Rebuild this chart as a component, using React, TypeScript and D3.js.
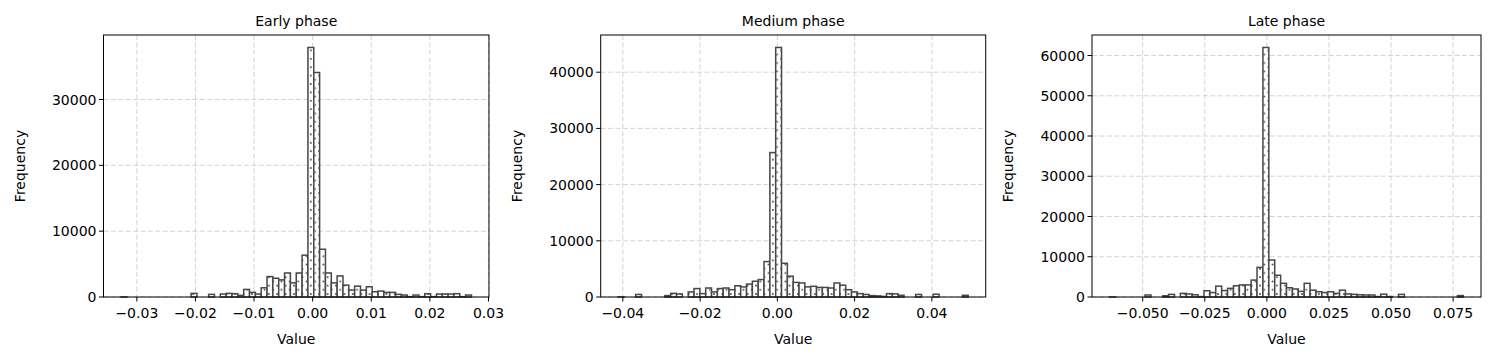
import React from 'react';
import * as d3 from 'd3';

// ---- data (60 bins per panel) ----
const earlyCounts = [
  10, 0, 0, 0, 0, 0, 0, 0, 0, 0,
  0, 0, 550, 0, 0, 400, 0, 450, 550, 500,
  250, 1150, 700, 450, 1400, 3100, 2850, 2600, 3650, 2150,
  3650, 6350, 37900, 34100, 7250, 3650, 2150, 3200, 1800, 1050,
  1650, 1050, 1550, 800, 900, 700, 700, 400, 300, 50,
  300, 50, 500, 50, 450, 450, 450, 500, 50, 300,
];
const mediumCounts = [
  10, 0, 0, 450, 0, 0, 0, 0, 250, 650,
  550, 0, 900, 1500, 600, 1600, 900, 1500, 1600, 1300,
  2000, 1800, 2300, 2800, 3100, 6300, 25700, 44400, 6000, 3700,
  2600, 2500, 1800, 1900, 1700, 1700, 1600, 2500, 2100, 1300,
  900, 600, 450, 250, 200, 100, 600, 550, 300, 0,
  0, 450, 0, 0, 500, 0, 0, 0, 0, 300,
];
const lateCounts = [
  10, 0, 0, 0, 0, 0, 500, 0, 0, 300,
  650, 0, 900, 750, 550, 100, 1550, 1100, 2700, 1600,
  2150, 2800, 3000, 3000, 4200, 7350, 62000, 9200, 5400, 3400,
  2300, 2000, 1400, 3400, 1700, 1300, 1100, 1300, 900, 1700,
  750, 650, 550, 500, 500, 100, 700, 100, 0, 650,
  0, 0, 0, 0, 0, 0, 0, 0, 0, 350,
];
const earlyExtent = [-0.0327, 0.0271];
const mediumExtent = [-0.0412, 0.0494];
const lateExtent = [-0.0633, 0.0791];

const earlyXTicks = [-0.03, -0.02, -0.01, 0, 0.01, 0.02, 0.03];
const mediumXTicks = [-0.04, -0.02, 0, 0.02, 0.04];
const lateXTicks = [-0.05, -0.025, 0, 0.025, 0.05, 0.075];
const earlyYTicks = [0, 10000, 20000, 30000];
const mediumYTicks = [0, 10000, 20000, 30000, 40000];
const lateYTicks = [0, 10000, 20000, 30000, 40000, 50000, 60000];
const titles = ['Early phase', 'Medium phase', 'Late phase'];
const xLabel = 'Value';
const yLabel = 'Frequency';

const panels = [
  { title: titles[0], counts: earlyCounts, extent: earlyExtent, xTicks: earlyXTicks, yTicks: earlyYTicks, fmt: '.2f', left: 103.5, right: 489 },
  { title: titles[1], counts: mediumCounts, extent: mediumExtent, xTicks: mediumXTicks, yTicks: mediumYTicks, fmt: '.2f', left: 600.7, right: 985.7 },
  { title: titles[2], counts: lateCounts, extent: lateExtent, xTicks: lateXTicks, yTicks: lateYTicks, fmt: '.3f', left: 1092, right: 1481 },
];

const TOP = 35;
const BOTTOM = 297;
const FONT = 'DejaVu Sans, sans-serif';
const EDGE = '#474747';
const FS = 14;

function Panel({ p, idx }: { p: any; idx: number }) {
  const [mn, mx] = p.extent;
  const R = mx - mn;
  const x = d3.scaleLinear().domain([mn - 0.05 * R, mx + 0.05 * R]).range([p.left, p.right]);
  const maxC = d3.max(p.counts as number[]) as number;
  const y = d3.scaleLinear().domain([0, maxC * 1.05]).range([BOTTOM, TOP]);
  const n = p.counts.length;
  const w = R / n;
  const fx = d3.format(p.fmt);
  const fy = d3.format('d');
  const cx = (p.left + p.right) / 2;
  return (
    <g>
      {p.xTicks.map((t: number, i: number) => (
        <line key={'gx' + i} x1={x(t)} x2={x(t)} y1={TOP} y2={BOTTOM} stroke="#cfcfcf" strokeWidth={0.9} strokeDasharray="5,2.4" />
      ))}
      {p.yTicks.map((t: number, i: number) => (
        <line key={'gy' + i} x1={p.left} x2={p.right} y1={y(t)} y2={y(t)} stroke="#cfcfcf" strokeWidth={0.9} strokeDasharray="5,2.4" />
      ))}
      {p.counts.map((c: number, i: number) => {
        const x0 = x(mn + i * w);
        const x1 = x(mn + (i + 1) * w);
        return (
          <rect key={'b' + i} x={x0} y={y(c)} width={x1 - x0} height={y(0) - y(c)}
            fill={`url(#dots${idx})`} stroke={EDGE} strokeWidth={1.5} />
        );
      })}
      <rect x={p.left} y={TOP} width={p.right - p.left} height={BOTTOM - TOP} fill="none" stroke="#000" strokeWidth={1} />
      {p.xTicks.map((t: number, i: number) => (
        <g key={'xt' + i}>
          <line x1={x(t)} x2={x(t)} y1={BOTTOM} y2={BOTTOM + 4.5} stroke="#000" strokeWidth={1} />
          <text x={x(t)} y={318} textAnchor="middle" fontSize={FS} fontFamily={FONT} fill="#000">{fx(t)}</text>
        </g>
      ))}
      {p.yTicks.map((t: number, i: number) => (
        <g key={'yt' + i}>
          <line x1={p.left - 4.5} x2={p.left} y1={y(t)} y2={y(t)} stroke="#000" strokeWidth={1} />
          <text x={p.left - 7} y={y(t)} dy="0.36em" textAnchor="end" fontSize={FS} fontFamily={FONT} fill="#000">{fy(t)}</text>
        </g>
      ))}
      <text x={cx} y={26} textAnchor="middle" fontSize={FS} fontFamily={FONT} fill="#000">{p.title}</text>
      <text x={cx} y={344} textAnchor="middle" fontSize={FS} fontFamily={FONT} fill="#000">{xLabel}</text>
      <text transform={`translate(${p.left - 84},${(TOP + BOTTOM) / 2}) rotate(-90)`} textAnchor="middle" dy="0.36em" fontSize={FS} fontFamily={FONT} fill="#000">{yLabel}</text>
    </g>
  );
}

export default function App() {
  return (
    <svg width={1495} height={363} style={{ position: 'absolute', left: 0, top: 0, background: '#fff' }}>
      <defs>
        {panels.map((_, i) => (
          <pattern key={i} id={`dots${i}`} width={8.4} height={8.4} patternUnits="userSpaceOnUse">
            <rect width={8.4} height={8.4} fill="#fff" />
            <circle cx={0} cy={0} r={1} fill={EDGE} />
            <circle cx={8.4} cy={0} r={1} fill={EDGE} />
            <circle cx={0} cy={8.4} r={1} fill={EDGE} />
            <circle cx={8.4} cy={8.4} r={1} fill={EDGE} />
            <circle cx={4.2} cy={4.2} r={1} fill={EDGE} />
          </pattern>
        ))}
      </defs>
      <rect width={1495} height={363} fill="#fff" />
      {panels.map((p, i) => <Panel key={i} p={p} idx={i} />)}
    </svg>
  );
}
